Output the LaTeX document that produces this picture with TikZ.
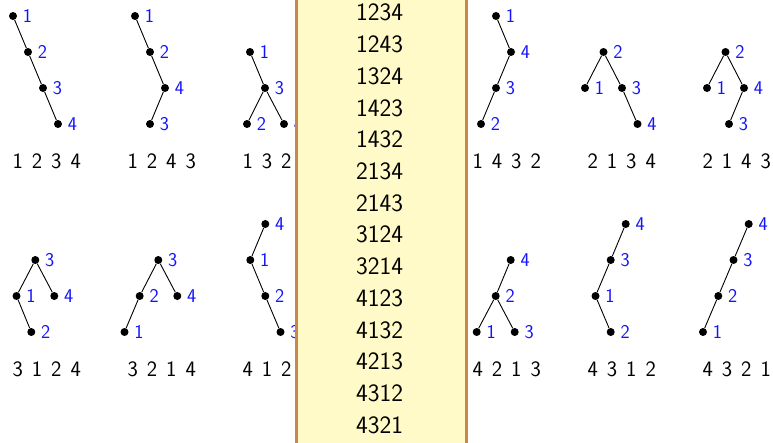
\documentclass[tikz,border=0pt]{standalone}
\usepackage{fontspec}
\definecolor{boxfill}{RGB}{255,250,200}
\definecolor{boxedge}{RGB}{200,136,72}
\definecolor{lblblue}{RGB}{20,20,250}
\newcommand{\perm}[4]{#1\hspace{9pt}#2\hspace{9pt}#3\hspace{9pt}#4}
\begin{document}
\begin{tikzpicture}[x=1pt,y=-1pt,
  dot/.style={circle,fill=black,inner sep=0pt,minimum size=8pt,
    label={[lbl]right:#1}},
  lbl/.style={text=lblblue,font=\sffamily\fontsize{19.5}{22}\selectfont,inner sep=0pt,label distance=5.5pt},
  edge/.style={line width=0.9pt},
  word/.style={font=\sffamily\fontsize{22}{26}\selectfont,inner sep=0pt},
  listed/.style={font=\sffamily\fontsize{25}{29}\selectfont,inner sep=0pt},
  panel/.style={draw=boxedge,fill=boxfill,line width=3pt}]
\useasboundingbox (0,0) rectangle (773,442);
\clip (0,0) rectangle (773,442);

% ---- first row of trees ----
% 1234
\node[dot=1] (p1a) at (13,16) {};
\node[dot=2] (p1b) at (28,52) {};
\node[dot=3] (p1c) at (43,88) {};
\node[dot=4] (p1d) at (58,124) {};
\draw[edge] (p1a) -- (p1b) -- (p1c) -- (p1d);
% 1243
\node[dot=1] (p2a) at (135,16) {};
\node[dot=2] (p2b) at (150,52) {};
\node[dot=4] (p2c) at (165,88) {};
\node[dot=3] (p2d) at (150,124) {};
\draw[edge] (p2a) -- (p2b) -- (p2c) -- (p2d);
% 1324
\node[dot=1] (p3a) at (250,52) {};
\node[dot=3] (p3b) at (265,88) {};
\node[dot=2] (p3c) at (247,124) {};
\node[dot=4] (p3d) at (284,124) {};
\draw[edge] (p3a) -- (p3b) -- (p3c);
\draw[edge] (p3b) -- (p3d);
% 1432
\node[dot=1] (p5a) at (496,16) {};
\node[dot=4] (p5b) at (511,52) {};
\node[dot=3] (p5c) at (496,88) {};
\node[dot=2] (p5d) at (481,124) {};
\draw[edge] (p5a) -- (p5b) -- (p5c) -- (p5d);
% 2134
\node[dot=2] (p6a) at (603.5,52) {};
\node[dot=1] (p6b) at (585,88) {};
\node[dot=3] (p6c) at (622,88) {};
\node[dot=4] (p6d) at (637.5,124) {};
\draw[edge] (p6b) -- (p6a) -- (p6c) -- (p6d);
% 2143
\node[dot=2] (p7a) at (725.5,52) {};
\node[dot=1] (p7b) at (707,88) {};
\node[dot=4] (p7c) at (744,88) {};
\node[dot=3] (p7d) at (729,124) {};
\draw[edge] (p7b) -- (p7a) -- (p7c) -- (p7d);

% ---- second row of trees ----
% 3124
\node[dot=3] (q1a) at (35.3,260) {};
\node[dot=1] (q1b) at (16.5,296) {};
\node[dot=4] (q1c) at (54.3,296) {};
\node[dot=2] (q1d) at (31.3,332) {};
\draw[edge] (q1c) -- (q1a) -- (q1b) -- (q1d);
% 3214
\node[dot=3] (q2a) at (158.3,260) {};
\node[dot=2] (q2b) at (139.7,296) {};
\node[dot=4] (q2c) at (177.3,296) {};
\node[dot=1] (q2d) at (124.5,332) {};
\draw[edge] (q2c) -- (q2a) -- (q2b) -- (q2d);
% 4123
\node[dot=4] (q3a) at (265.3,224) {};
\node[dot=1] (q3b) at (250.3,260) {};
\node[dot=2] (q3c) at (265.3,296) {};
\node[dot=3] (q3d) at (280.5,332) {};
\draw[edge] (q3a) -- (q3b) -- (q3c) -- (q3d);
% 4213
\node[dot=4] (q5a) at (510.7,260) {};
\node[dot=2] (q5b) at (495.7,296) {};
\node[dot=1] (q5c) at (476.7,332) {};
\node[dot=3] (q5d) at (514.7,332) {};
\draw[edge] (q5a) -- (q5b) -- (q5c);
\draw[edge] (q5b) -- (q5d);
% 4312
\node[dot=4] (q6a) at (625.7,224) {};
\node[dot=3] (q6b) at (610.7,260) {};
\node[dot=1] (q6c) at (595.5,296) {};
\node[dot=2] (q6d) at (610.7,332) {};
\draw[edge] (q6a) -- (q6b) -- (q6c) -- (q6d);
% 4321
\node[dot=4] (q7a) at (748.7,224) {};
\node[dot=3] (q7b) at (733.5,260) {};
\node[dot=2] (q7c) at (718.3,296) {};
\node[dot=1] (q7d) at (703,332) {};
\draw[edge] (q7a) -- (q7b) -- (q7c) -- (q7d);

% ---- words under the trees ----
\node[word] (w1) at (46.7,161.7) {\perm1234};
\node[word] (w2) at (161.7,161.7) {\perm1243};
\node[word] (w3) at (276.7,161.7) {\perm1324};
\node[word] (w5) at (506.7,161.7) {\perm1432};
\node[word] (w6) at (621.7,161.7) {\perm2134};
\node[word] (w7) at (736.7,161.7) {\perm2143};
\node[word] (v1) at (46.7,368.8) {\perm3124};
\node[word] (v2) at (161.7,368.8) {\perm3214};
\node[word] (v3) at (276.7,368.8) {\perm4123};
\node[word] (v5) at (506.7,368.8) {\perm4213};
\node[word] (v6) at (621.7,368.8) {\perm4312};
\node[word] (v7) at (736.7,368.8) {\perm4321};

% ---- list panel ----
\draw[panel] (296.7,-10) rectangle (466.7,452);
\foreach \w [count=\i from 0] in {1234,1243,1324,1423,1432,2134,2143,3124,3214,4123,4132,4213,4312,4321}
  \node[listed] (l\i) at (379.5,12.7+31.72*\i) {\w};
\end{tikzpicture}
\end{document}
